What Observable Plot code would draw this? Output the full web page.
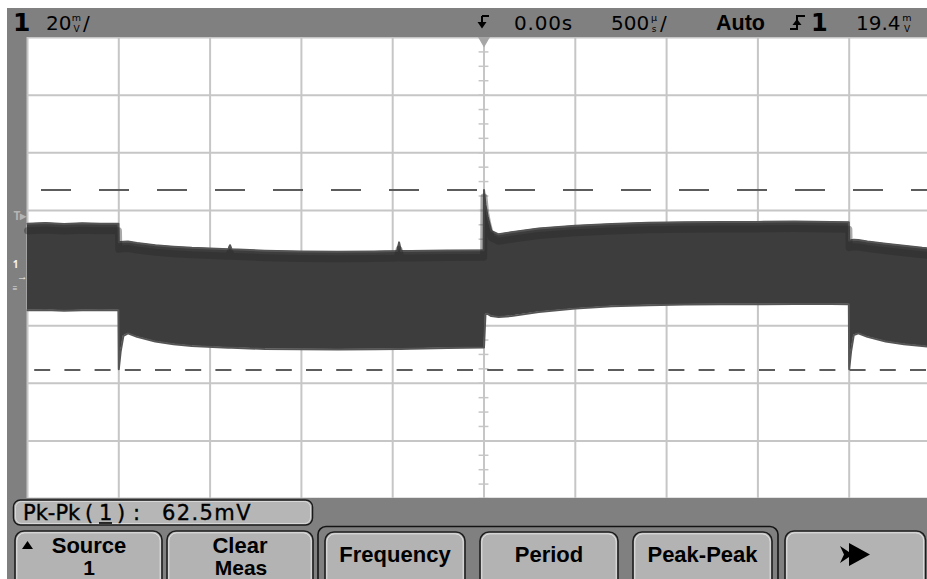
<!DOCTYPE html>
<html><head><meta charset="utf-8">
<script src="https://cdn.jsdelivr.net/npm/d3@7"></script>
<script src="https://cdn.jsdelivr.net/npm/@observablehq/plot@0.6"></script>
<style>
html,body{margin:0;padding:0;background:#fff;overflow:hidden;width:927px;height:579px;}
#scope{position:absolute;left:7px;top:8px;width:920px;height:571px;background:#808080;overflow:hidden;}
#plot{position:absolute;left:0;top:29px;}
#chrome{position:absolute;left:0;top:0;pointer-events:none;}
#plot svg g[aria-label="area"]{filter:blur(0.4px);}
</style></head><body><div id="scope"><div id="plot"></div></div>
<script>
// ---- data ----
// time in microseconds (500 us/div), envelope of channel 1 in mV (20 mV/div)
const times = [-2500,-2400,-2300,-2200,-2100,-2002,
  -2000,-1990,-1975,-1950,-1900,-1800,-1700,-1600,-1400,-1391,-1382,-1200,-1000,-800,-600,-475,-465,-455,-400,-200,-2,
  0,8,20,40,80,150,300,500,700,900,1100,1300,1500,1700,1900,1998,
  2000,2010,2025,2050,2100,2200,2300,2400,2500];
const upper = [18.5,18.7,18.4,18.6,18.5,18.5,
  12.0,12.1,12.2,12.3,11.8,11.0,10.5,10.1,9.6,11.0,9.6,9.1,8.8,8.7,8.8,9.0,12.0,9.0,9.0,9.2,9.3,
  30.2,25.0,21.0,16.0,14.8,15.5,16.8,17.8,18.4,18.8,19.0,19.1,19.1,19.2,19.1,19.0,
  12.6,12.7,12.9,12.8,12.3,11.5,10.8,10.1,9.6];
const lower = [-11.6,-11.5,-11.7,-11.6,-11.5,-11.6,
  -32.0,-26.0,-20.5,-19.6,-20.8,-22.4,-23.4,-24.0,-24.6,-24.6,-24.6,-25.0,-25.1,-25.2,-25.1,-25.0,-25.0,-25.0,-24.9,-24.7,-24.5,
  -24.5,-13.0,-12.8,-13.6,-13.9,-13.6,-12.2,-11.0,-10.2,-9.8,-9.6,-9.5,-9.5,-9.4,-9.4,-9.5,
  -32.0,-26.0,-20.2,-19.6,-20.8,-22.4,-23.4,-24.0,-24.5];
const timeGrid = [-2500,-2000,-1500,-1000,-500,0,500,1000,1500,2000,2500];
const screenCenter = 3.1;      // mV at screen centre (channel offset)
const voltsPerDiv = 20;        // mV/div
const voltGrid = [-4,-3,-2,-1,0,1,2,3,4].map(k => screenCenter + k*voltsPerDiv);
const voltMinor = d3.range(-16,17).map(k => screenCenter + k*voltsPerDiv/4);
const cursorHigh = 30.2, cursorLow = -32.3;   // Pk-Pk cursors
const triggerLevel = 19.4;
const readout = {ch:"1", scale:"20", time:"0.00s", tdiv:"500", mode:"Auto", src:"1", level:"19.4"};
const measurement = ["Pk-Pk","(","1",")",":","62.5mV"];
const buttons = [["Source","1"],["Clear","Meas"],["Frequency"],["Period"],["Peak-Peak"]];

const wave = times.map((t,i) => ({t, hi: upper[i], lo: lower[i]}));

const chart = Plot.plot({
  width: 933, height: 461,
  marginLeft: 20, marginRight: 0, marginTop: 0, marginBottom: 0,
  x: {domain: [-2500, 2500], axis: null},
  y: {domain: [screenCenter - 4*voltsPerDiv, screenCenter + 4*voltsPerDiv], axis: null},
  style: {background: "#808080", maxWidth: "none", overflow: "hidden", display: "block"},
  marks: [
    Plot.frame({fill: "white", stroke: "none"}),
    Plot.ruleX(timeGrid, {stroke: "#c6c6c6", strokeWidth: 2}),
    Plot.ruleY(voltGrid, {stroke: "#c6c6c6", strokeWidth: 2}),
    Plot.ruleY(voltMinor, {x1: -27, x2: 27, stroke: "#c6c6c6", strokeWidth: 1.5}),
    Plot.areaY(wave, {x: "t", y1: "lo", y2: "hi", fill: "#3d3d3d"}),
    Plot.lineY(wave, {x: "t", y: "hi", stroke: "#555", strokeWidth: 2}),
    Plot.lineY(wave, {x: "t", y: "lo", stroke: "#555", strokeWidth: 2}),
    Plot.lineY(wave, {x: "t", y: "hi", dy: 7, stroke: "#282828", strokeWidth: 7, strokeOpacity: 0.4}),
    Plot.ruleY([cursorHigh], {stroke: "#5c5c5c", strokeWidth: 2, strokeDasharray: "30,28", strokeDashoffset: 44}),
    Plot.ruleY([cursorLow], {stroke: "#5c5c5c", strokeWidth: 2, strokeDasharray: "16,14.2", strokeDashoffset: 23}),
    Plot.text(["T▸"], {frameAnchor: "left", y: triggerLevel, dx: -1, dy: -5, textAnchor: "end", fill: "#b4b4b4", fontSize: 12, fontWeight: "bold"}),
    Plot.text(["1"], {frameAnchor: "left", y: 0, dx: -9, dy: -12, textAnchor: "end", fill: "#f4f4f4", fontSize: 10, fontWeight: "bold"}),
    Plot.text(["→"], {frameAnchor: "left", y: 0, dx: 0, dy: 0, textAnchor: "end", fill: "#f4f4f4", fontSize: 10.5}),
    Plot.text(["≡"], {frameAnchor: "left", y: 0, dx: -10, dy: 11.5, textAnchor: "end", fill: "#e0e0e0", fontSize: 8}),
    Plot.dot([0], {x: d => d, frameAnchor: "top", symbol: "triangle", rotate: 180, r: 4.5, fill: "#a6a6a6", dy: 3})
  ]
});
document.getElementById("plot").append(chart);

// ---- instrument chrome (status bar, measurement box, softkeys) ----
const svg = d3.select("body").append("svg").attr("id","chrome").attr("width",927).attr("height",579);
function txt(s, x, y, o = {}) {
  const t = svg.append("text").attr("x", x).attr("y", y).text(s)
    .attr("font-family", o.family || "DejaVu Sans").attr("font-size", o.size || 20)
    .attr("font-weight", o.weight || "normal").attr("fill", o.fill || "#000")
    .attr("text-anchor", o.anchor || "start");
  if (o.ls) t.attr("letter-spacing", o.ls);
  return t;
}
function stacked(top, bot, cx) {
  txt(top, cx, 21, {size: 9.5, anchor: "middle"});
  txt(bot, cx, 32, {size: 9, anchor: "middle"});
}
// top status bar
txt(readout.ch, 13, 31, {size: 25, weight: "bold"});
txt(readout.scale, 46, 29.5, {size: 20});
stacked("m", "V", 76.5);
txt("/", 83, 29.5, {size: 20});
svg.append("path").attr("d", "M482,16 H489 M482,16 V24").attr("stroke", "#000").attr("stroke-width", 2).attr("fill", "none");
svg.append("polygon").attr("points", "477.5,22 486.5,22 482,28.5").attr("fill", "#000");
txt(readout.time, 514, 29.5, {size: 20, ls: 0.8});
txt(readout.tdiv, 611, 29.5, {size: 20});
stacked("µ", "s", 654);
txt("/", 660, 29.5, {size: 20});
txt(readout.mode, 716, 30, {family: "Liberation Sans", size: 21.5, weight: "bold"});
svg.append("path").attr("d", "M790,29 H797 V16 H805").attr("stroke", "#000").attr("stroke-width", 2).attr("fill", "none");
svg.append("polygon").attr("points", "792.5,25 801.5,25 797,19").attr("fill", "#000");
txt(readout.src, 811, 30.5, {size: 24, weight: "bold"});
txt(readout.level, 856, 29.5, {size: 20});
stacked("m", "V", 907);

// measurement readout box
svg.append("rect").attr("x", 13.5).attr("y", 500).attr("width", 299).attr("height", 25).attr("rx", 7)
  .attr("fill", "#b6b6b6").attr("stroke", "#1a1a1a").attr("stroke-width", 1.5);
svg.append("rect").attr("x", 15.5).attr("y", 501.5).attr("width", 295).attr("height", 22).attr("rx", 6)
  .attr("fill", "none").attr("stroke", "#e6e6e6").attr("stroke-width", 1).attr("opacity", 0.7);
const mt = svg.append("text").attr("y", 520).attr("font-family", "DejaVu Sans").attr("font-size", 21)
  .attr("fill", "#000").attr("stroke", "#000").attr("stroke-width", 0.35);
const mx = [23, 85, 99, 117, 133, 162];
measurement.forEach((s, i) => mt.append("tspan").attr("x", mx[i]).attr("letter-spacing", i === 5 ? 1.4 : 0).text(s));
svg.append("line").attr("x1", 99).attr("x2", 112).attr("y1", 523).attr("y2", 523).attr("stroke", "#000").attr("stroke-width", 1.6);

// softkeys
function key(x0, x1, y0) {
  svg.append("rect").attr("x", x0).attr("y", y0).attr("width", x1 - x0).attr("height", 70).attr("rx", 9)
    .attr("fill", "#b3b3b3").attr("stroke", "#1e1e1e").attr("stroke-width", 1.6);
  svg.append("rect").attr("x", x0 + 1.8).attr("y", y0 + 1.8).attr("width", x1 - x0 - 3.6).attr("height", 70).attr("rx", 8)
    .attr("fill", "none").attr("stroke", "#ececec").attr("stroke-width", 1).attr("opacity", 0.85);
}
svg.append("rect").attr("x", 318).attr("y", 526.5).attr("width", 460).attr("height", 70).attr("rx", 8)
  .attr("fill", "none").attr("stroke", "#141414").attr("stroke-width", 1.6);
const keyX = [[15, 162], [167, 313], [325, 465], [480, 618], [633, 772], [785, 925.5]];
keyX.forEach(([a, b], i) => key(a, b, i >= 2 && i <= 4 ? 532 : 531));
const bf = {family: "Liberation Sans", size: 22, weight: "bold", anchor: "middle"};
txt(buttons[0][0], 89, 553, bf);
txt(buttons[0][1], 89, 575, {...bf, size: 21});
svg.append("polygon").attr("points", "22,549 33,549 27.5,541").attr("fill", "#000");
txt(buttons[1][0], 240, 552.5, bf);
txt(buttons[1][1], 241, 574.5, {...bf, size: 21});
txt(buttons[2][0], 395, 561.5, bf);
txt(buttons[3][0], 549, 561.5, bf);
txt(buttons[4][0], 702.5, 561.5, bf);
svg.append("polygon").attr("points", "840,546 849,552 849,543 870,554.5 849,566 849,557 840,563 844,554.5").attr("fill", "#000");
</script></body></html>
